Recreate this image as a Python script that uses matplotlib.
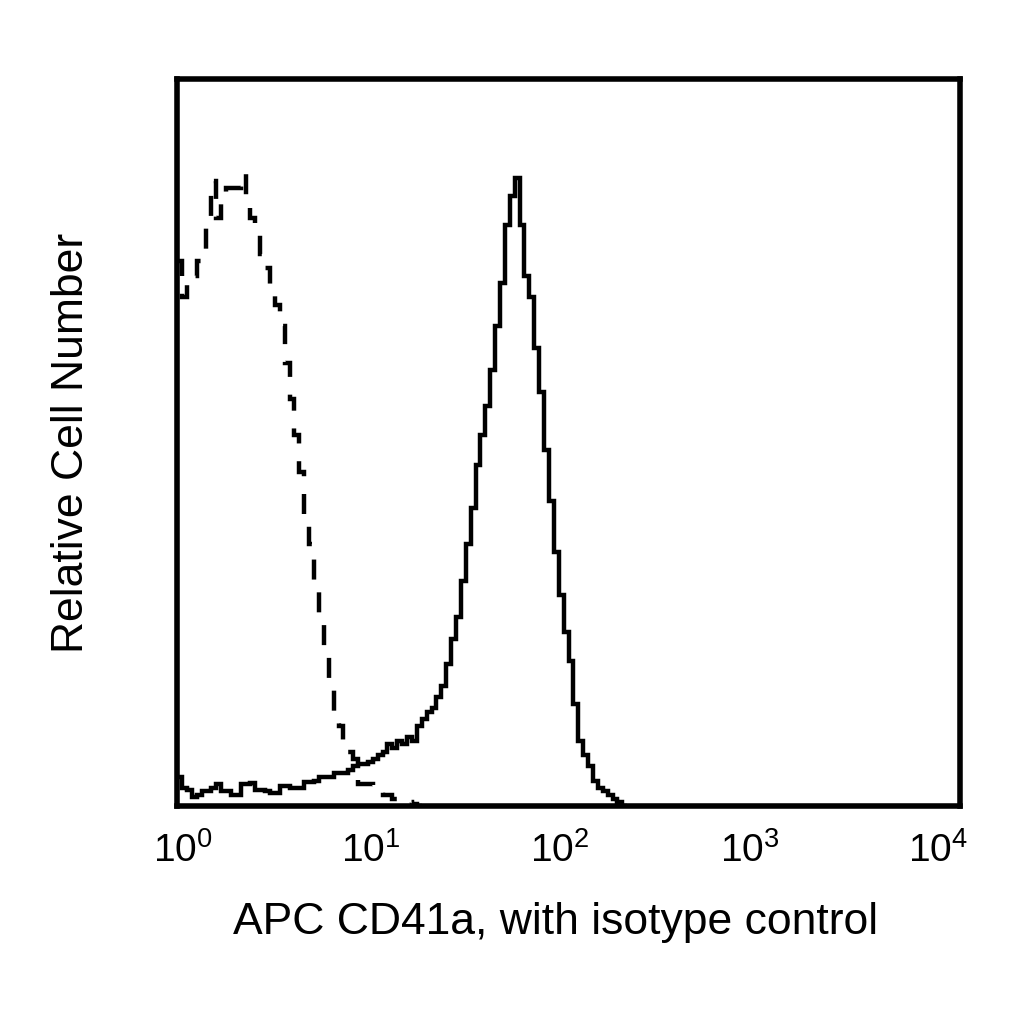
import numpy as np
import matplotlib
matplotlib.use("Agg")
import matplotlib.pyplot as plt

plt.rcParams['font.family'] = ['Liberation Sans', 'DejaVu Sans']

# histogram channels: 40 per decade, values as % of the plot height
channels_per_decade = 40

cd41a = [4, 2.5, 2.2, 1.3, 1.5, 2, 2, 2.5, 3, 2,
         2, 1.5, 1.5, 3, 3, 3.2, 2.2, 2.2, 2, 1.8,
         1.8, 2.7, 2.7, 2.5, 2.5, 2.5, 3.3, 3.3, 3.5, 4,
         4, 4, 4.5, 4.5, 4.5, 5, 5.5, 5.8, 5.8, 6,
         6.5, 7, 7.5, 8.5, 8, 9, 8.5, 9.5, 9, 11,
         12, 13, 13.5, 15, 16.5, 19.5, 23, 26, 31, 36,
         41, 47, 51, 55, 60, 66, 72, 80, 84, 86.5,
         80, 73, 70, 63, 57, 49, 42, 35, 29, 24,
         20, 14, 9, 7, 5.5, 3.5, 2.5, 2, 1.5, 1,
         0.5, 0]

isotype = [75, 70, 72, 73, 75, 75.5, 80, 86, 81, 84,
           85, 85, 85, 87, 84, 81, 79, 76, 74, 71,
           69, 66, 61, 56, 51, 46, 40, 36, 31, 25,
           21, 17, 13, 11, 8, 7.5, 6.5, 3, 3, 3,
           2.5, 2, 1.5, 1.5, 1, 1, 0.7, 0.5, 0.3, 0]

tick_values = [1, 10, 100, 1000, 10000]
tick_labels = [r'$\mathdefault{10^{%d}}$' % e for e in range(5)]
# the labels in the original sit a little left of the decades
label_shift_px = [6, -2, -9, -14, -22]


def channel_edges(n):
    return 10 ** (np.arange(n + 1) / channels_per_decade)


fig = plt.figure(figsize=(10.24, 10.24), dpi=100)
ax = fig.add_axes([0.1729, 0.2129, 0.7646, 0.7095])

ax.stairs(cd41a, channel_edges(len(cd41a)), baseline=None,
          color='black', linewidth=3.2)
ax.stairs(isotype, channel_edges(len(isotype)), baseline=None,
          color='black', linewidth=3.2, linestyle=(0, (4.5, 4)))

ax.set_xscale('log')
ax.set_xlim(1, 1e4)
ax.set_ylim(0, 100)
# one decade is ~196 px wide
label_pos = [v * 10 ** (d / 196) for v, d in zip(tick_values, label_shift_px)]
ax.set_xticks(label_pos, tick_labels)
ax.minorticks_off()
ax.tick_params(axis='x', length=0, pad=19, labelsize=28)
ax.set_yticks([])

for s in ax.spines.values():
    s.set_linewidth(4)

ax.set_xlabel('APC CD41a, with isotype control', fontsize=32)
ax.set_ylabel('Relative Cell Number', fontsize=32)
ax.xaxis.set_label_coords(0.484, -0.132)
ax.yaxis.set_label_coords(-0.108, 0.5)

fig.savefig('out.png', dpi=100, facecolor='white')
